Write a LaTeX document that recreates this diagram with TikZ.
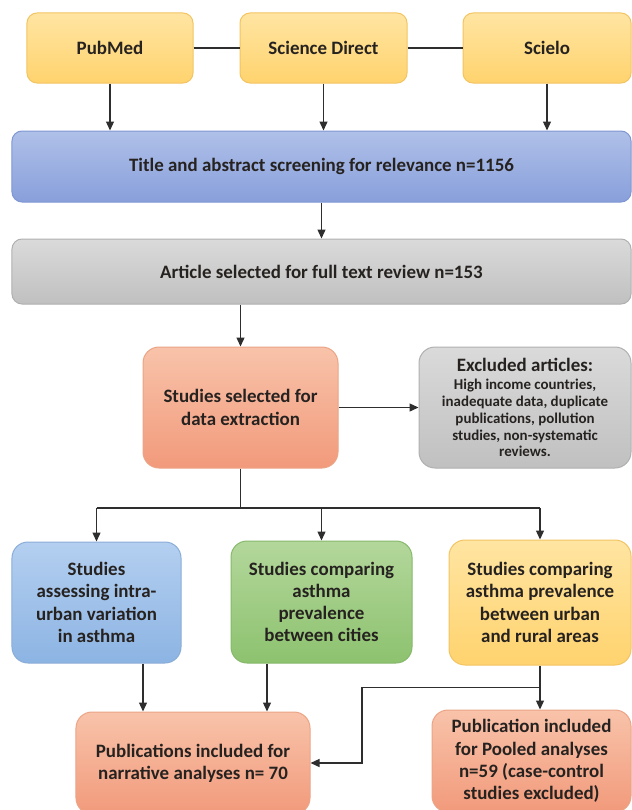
\documentclass[tikz,border=0pt]{standalone}
\usepackage{fontspec}
\setmainfont{Carlito}
\usetikzlibrary{arrows.meta,shadings}

\definecolor{testo}{HTML}{262220}
\definecolor{filo}{HTML}{2E2E2E}
\definecolor{gialloA}{HTML}{FFE5A2}
\definecolor{gialloB}{HTML}{FFD36E}
\definecolor{gialloC}{HTML}{F2C462}
\definecolor{bluA}{HTML}{AFC0E8}
\definecolor{bluB}{HTML}{889FDB}
\definecolor{bluC}{HTML}{7F97D2}
\definecolor{grigioA}{HTML}{DADADA}
\definecolor{grigioB}{HTML}{C0C0C0}
\definecolor{grigioC}{HTML}{B0B0B0}
\definecolor{aranA}{HTML}{F8C3AA}
\definecolor{aranB}{HTML}{F29A7B}
\definecolor{aranC}{HTML}{EBA485}
\definecolor{celesteA}{HTML}{B4CFF0}
\definecolor{celesteB}{HTML}{8CB4E3}
\definecolor{celesteC}{HTML}{8AADD8}
\definecolor{verdeA}{HTML}{B3D79B}
\definecolor{verdeB}{HTML}{8DC26F}
\definecolor{verdeC}{HTML}{86B96A}

\tikzset{
	box/.style={rounded corners=10bp, line width=1bp, align=center, inner sep=2bp,
		text=testo, font=\fontsize{19}{22.3}\selectfont\bfseries},
	gialla/.style={box, draw=gialloC, top color=gialloA, bottom color=gialloB},
	blu/.style={box, draw=bluC, top color=bluA, bottom color=bluB},
	grigia/.style={box, draw=grigioC, top color=grigioA, bottom color=grigioB},
	arancio/.style={box, rounded corners=16bp, draw=aranC, top color=aranA, bottom color=aranB},
	celeste/.style={box, rounded corners=16bp, draw=celesteC, top color=celesteA, bottom color=celesteB},
	verde/.style={box, rounded corners=16bp, draw=verdeC, top color=verdeA, bottom color=verdeB},
	linea/.style={line width=1.3bp, draw=filo},
	freccia/.style={linea, -{Triangle[length=9bp,width=8bp]}}
}

\begin{document}
\begin{tikzpicture}[x=1bp,y=-1bp]
		\useasboundingbox (0,0) rectangle (632,810);

		% Banche dati
		\node[gialla, minimum width=166bp, minimum height=70bp] (pubmed) at (110,48) {PubMed};
		\node[gialla, minimum width=167bp, minimum height=70bp] (scidirect) at (323.5,48) {Science Direct};
		\node[gialla, minimum width=168bp, minimum height=70bp] (scielo) at (547,48) {Scielo};
		\draw[linea] (pubmed) -- (scidirect) -- (scielo);

		% Screening
		\node[blu, minimum width=619bp, minimum height=71bp] (screening) at (321.5,166.5) {Title and abstract screening for relevance n=1156};
		\foreach \n in {pubmed,scidirect,scielo}
			\draw[freccia] (\n.south) -- (\n.south |- screening.north);

		\node[grigia, minimum width=619bp, minimum height=65bp] (fulltext) at (321.5,271.5) {Article selected for full text review n=153};
		\draw[freccia] (screening.south) -- (fulltext.north);

		% Estrazione
		\node[arancio, minimum width=195bp, minimum height=121bp] (estrazione) at (240.5,407.5) {Studies selected for\\data extraction};
		\node[grigia, rounded corners=16bp, minimum width=212bp, minimum height=121bp,
			font=\fontsize{15}{16.8}\selectfont\bfseries] (esclusi) at (525,407.5)
			{{\fontsize{19}{22}\selectfont Excluded articles:}\\[2bp]High income countries,\\inadequate data, duplicate\\publications, pollution\\studies, non-systematic\\reviews.};
		\draw[freccia] (fulltext.south -| estrazione) -- (estrazione.north);
		\draw[freccia] (estrazione) -- (esclusi);

		% Tipi di studio
		\node[celeste, minimum width=169bp, minimum height=121bp] (intraurbana) at (96.5,602.5) {Studies\\assessing intra-\\urban variation\\in asthma};
		\node[verde, minimum width=181bp, minimum height=122bp] (citta) at (321.5,602) {Studies comparing\\asthma\\prevalence\\between cities};
		\node[gialla, rounded corners=16bp, minimum width=182bp, minimum height=125bp] (rurale) at (540,602.5) {Studies comparing\\asthma prevalence\\between urban\\and rural areas};
		\coordinate (nodo) at (240.5,508);
		\draw[linea] (estrazione.south) -- (nodo);
		\draw[linea] (intraurbana.north |- nodo) -- (rurale.north |- nodo);
		\foreach \n in {intraurbana,citta,rurale}
			\draw[freccia] (\n.north |- nodo) -- (\n.north);

		% Pubblicazioni incluse
		\node[arancio, minimum width=234bp, minimum height=102bp] (narrativa) at (193,763) {Publications included for\\narrative analyses n= 70};
		\node[arancio, minimum width=199bp, minimum height=102bp] (pooled) at (531.5,761) {Publication included\\for Pooled analyses\\n=59 (case-control\\studies excluded)};
		\draw[freccia] ([xshift=46.5bp]intraurbana.south) -- ([xshift=46.5bp]intraurbana.south |- narrativa.north);
		\draw[freccia] ([xshift=-54.5bp]citta.south) -- ([xshift=-54.5bp]citta.south |- narrativa.north);
		\draw[freccia] (rurale.south) -- (rurale.south |- pooled.north);
		\path (rurale.south) ++(0,22) coordinate (bivio);
		\draw[freccia] (bivio) -- ++(-178,0) |- (narrativa.east);
	\end{tikzpicture}
\end{document}
